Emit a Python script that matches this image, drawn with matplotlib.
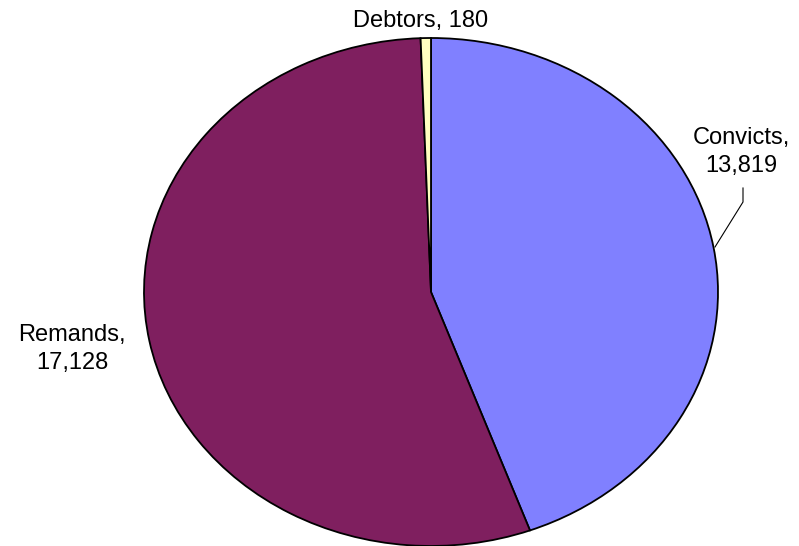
import matplotlib
matplotlib.use("Agg")
import matplotlib.pyplot as plt

labels = ["Convicts", "Remands", "Debtors"]
values = [13819, 17128, 180]
colors = ["#8080FF", "#7F1F5F", "#FFFFC0"]

plt.rcParams['font.family'] = ['Liberation Sans', 'DejaVu Sans']

W, H = 799, 546
fig = plt.figure(figsize=(W / 100, H / 100), dpi=100)
# ellipse: x 144..718, y 38..546 (pixels)
ax = fig.add_axes([144 / W, 0 / H, 574 / W, 508 / H])

ax.pie(values, colors=colors, startangle=90, counterclock=False,
       wedgeprops=dict(edgecolor="black", linewidth=1.3))
ax.set_aspect('auto')
ax.set_xlim(-1, 1)
ax.set_ylim(-1, 1)


def px(x, y):
    # pixel coords -> data coords
    cx, cy, rx, ry = 431, 292, 287, 254
    return (x - cx) / rx, (cy - y) / ry


fs = 17
x, y = px(421, 21)
ax.text(x, y, f"{labels[2]}, {values[2]:,}", ha="center", va="center", fontsize=fs)
x, y = px(741, 152)
ax.text(x, y, f"{labels[0]},\n{values[0]:,}", ha="center", va="center",
        fontsize=fs, linespacing=1.4)
x, y = px(72, 349)
ax.text(x, y, f"{labels[1]},\n{values[1]:,}", ha="center", va="center",
        fontsize=fs, linespacing=1.3)

# leader line for Convicts
lx, ly = zip(px(715, 247), px(743, 202), px(743, 188))
ax.plot(lx, ly, color="black", linewidth=0.8, clip_on=False)

fig.savefig("out.png", dpi=100)
